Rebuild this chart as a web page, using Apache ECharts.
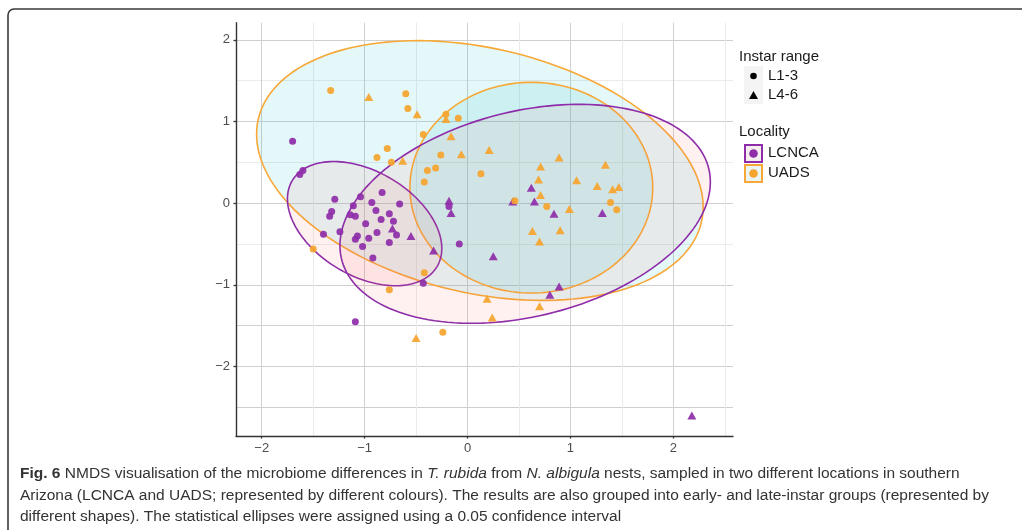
<!DOCTYPE html>
<html><head><meta charset="utf-8">
<script src="https://cdn.jsdelivr.net/npm/echarts@6/dist/echarts.min.js"></script>
<style>html,body{margin:0;padding:0;background:#fff}#c{width:1022px;height:530px}</style>
</head><body><div id="c"></div>
<script>
// ---- data (NMDS1, NMDS2) ----
const lcncaL13 = [[-1.70,0.76],[-1.63,0.35],[-1.60,0.40],[-1.29,0.05],[-1.04,0.08],[-0.83,0.13],[-0.93,0.01],[-0.66,-0.01],[-1.11,-0.03],[-1.32,-0.10],[-1.34,-0.16],[-1.14,-0.14],[-1.09,-0.16],[-0.89,-0.09],[-0.76,-0.13],[-0.84,-0.20],[-0.72,-0.22],[-0.99,-0.25],[-1.40,-0.38],[-1.24,-0.35],[-0.88,-0.36],[-0.69,-0.39],[-1.07,-0.40],[-1.09,-0.44],[-0.96,-0.43],[-0.76,-0.48],[-1.02,-0.53],[-0.92,-0.67],[-0.43,-0.98],[-0.08,-0.50],[-1.09,-1.45],[-0.18,-0.04]];
const lcncaL46 = [[-0.73,-0.31],[-0.55,-0.40],[-0.33,-0.58],[-0.18,0.03],[-0.16,-0.12],[0.25,-0.65],[0.62,0.19],[0.65,0.02],[0.84,-0.13],[0.44,0.02],[0.89,-1.02],[0.80,-1.12],[1.31,-0.12],[2.18,-2.60]];
const uadsL13 = [[-1.33,1.38],[-0.60,1.34],[-0.58,1.16],[-0.43,0.84],[-0.78,0.67],[-0.88,0.56],[-0.74,0.50],[-0.26,0.59],[-0.31,0.43],[-0.39,0.40],[-0.42,0.26],[-0.21,1.09],[-0.09,1.04],[0.13,0.36],[0.46,0.03],[0.77,-0.04],[1.39,0.01],[1.45,-0.08],[-1.50,-0.56],[-0.42,-0.85],[-0.76,-1.06],[-0.24,-1.58]];
const uadsL46 = [[-0.96,1.30],[-0.49,1.09],[-0.63,0.52],[-0.21,1.03],[-0.16,0.82],[-0.06,0.60],[0.21,0.65],[0.89,0.56],[0.71,0.45],[0.69,0.29],[1.06,0.28],[0.71,0.10],[0.99,-0.07],[0.63,-0.34],[0.90,-0.33],[0.70,-0.47],[1.34,0.47],[1.26,0.21],[1.41,0.17],[1.47,0.20],[0.19,-1.17],[0.70,-1.26],[0.24,-1.40],[-0.50,-1.65]];

// ---- ticks / grid ----
const xTickLabels = [-2,-1,0,1,2];
const yTickLabels = [-2,-1,0,1,2];
const xGridValues = [-2,-1.5,-1,-0.5,0,0.5,1,1.5,2,2.5];
const yGridValues = [-2.5,-2,-1.5,-1,-0.5,0,0.5,1,1.5,2];

// ---- 95% ellipses (center, half-extent, correlation) ----
const ellipseNames    = ['UADS L1-3','UADS L4-6','LCNCA L1-3','LCNCA L4-6'];
const ellipseLocality = ['UADS','UADS','LCNCA','LCNCA'];
const ellipseCx  = [0.12, 0.62, -1.00, 0.56];
const ellipseCy  = [0.40, 0.19, -0.25, -0.13];
const ellipseSx  = [2.17, 1.18, 0.75, 1.80];
const ellipseSy  = [1.59, 1.29, 0.76, 1.34];
const ellipseRho = [-0.28, 0.00, -0.40, 0.29];

const PURPLE = '#8E2CA9', ORANGE = '#F5A42E';
const lineColor = {LCNCA: PURPLE, UADS: '#F7A836'};
const fillColor = {LCNCA: 'rgba(248,118,109,0.1)', UADS: 'rgba(0,191,196,0.1)'};
const FONT = '"Liberation Sans", Arial, sans-serif';
const fmt = v => v < 0 ? '\u2212' + Math.abs(v) : String(v);
const G1 = '#d0d0d0', G2 = '#ebebeb';

const chart = echarts.init(document.getElementById('c'), null, {renderer: 'canvas'});

function renderEllipse(params, api) {
  const i = params.dataIndex;
  const pts = [];
  const n = 160, r = ellipseRho[i], q = Math.sqrt(1 - r * r);
  for (let k = 0; k < n; k++) {
    const t = 2 * Math.PI * k / n;
    const x = ellipseCx[i] + ellipseSx[i] * Math.cos(t);
    const y = ellipseCy[i] + ellipseSy[i] * (r * Math.cos(t) + q * Math.sin(t));
    pts.push(api.coord([x, y]));
  }
  const loc = ellipseLocality[i];
  return {type: 'polygon', shape: {points: pts},
    style: {fill: fillColor[loc], stroke: lineColor[loc], lineWidth: 1.6}};
}

const scatter = (name, data, color, symbol, size) => ({
  name, type: 'scatter', data, symbol, symbolSize: size,
  itemStyle: {color: color, opacity: 0.92}, silent: true, z: 4
});

const legendText = (text, x, y, size) => ({type: 'text', x, y,
  style: {text, fill: '#1a1a1a', font: size + 'px ' + FONT, verticalAlign: 'middle'}});

const CS = 15.5;
const capRich = {
  n: {fontSize: CS, fontFamily: FONT, color: '#333'},
  b: {fontSize: CS, fontFamily: FONT, color: '#333', fontWeight: 'bold'},
  i: {fontSize: CS, fontFamily: FONT, color: '#333', fontStyle: 'italic'}
};
const capLine = (text, y) => ({type: 'text', x: 20, y,
  style: {text, rich: capRich, fill: '#333', font: CS + 'px ' + FONT, verticalAlign: 'middle'}});

chart.setOption({
  animation: false,
  backgroundColor: '#fff',
  grid: {left: 236, top: 22.7, width: 497, height: 413.3, outerBoundsMode: 'none'},
  xAxis: [{
    type: 'value', min: -2.25, max: 2.58,
    axisLine: {show: true, onZero: false, lineStyle: {color: '#333', width: 1.4}},
    axisTick: {show: false, customValues: xGridValues},
    axisLabel: {customValues: xTickLabels, formatter: fmt, color: '#4d4d4d', fontSize: 13, fontFamily: FONT, margin: 6},
    splitLine: {show: true, lineStyle: {color: [G1, G2], width: 1}}
  }, {
    type: 'value', min: -2.25, max: 2.58, position: 'bottom',
    axisLine: {show: false, onZero: false},
    axisTick: {show: true, customValues: xTickLabels, length: 2.5, lineStyle: {color: '#333', width: 1.3}},
    axisLabel: {show: false}, splitLine: {show: false}
  }],
  yAxis: [{
    type: 'value', min: -2.85, max: 2.21,
    axisLine: {show: true, onZero: false, lineStyle: {color: '#333', width: 1.4}},
    axisTick: {show: false, customValues: yGridValues},
    axisLabel: {customValues: yTickLabels, formatter: fmt, color: '#4d4d4d', fontSize: 13, fontFamily: FONT, margin: 6},
    splitLine: {show: true, lineStyle: {color: [G1, G1, G1, G1, G2, G1, G2, G1, G2, G1], width: 1}}
  }, {
    type: 'value', min: -2.85, max: 2.21, position: 'left',
    axisLine: {show: false, onZero: false},
    axisTick: {show: true, customValues: yTickLabels, length: 2.5, lineStyle: {color: '#333', width: 1.3}},
    axisLabel: {show: false}, splitLine: {show: false}
  }],
  series: [
    {
      type: 'custom', name: 'ellipses', silent: true, z: 3,
      renderItem: renderEllipse,
      data: ellipseNames.map((n, i) => [ellipseCx[i], ellipseCy[i]]),
      encode: {x: 0, y: 1}
    },
    scatter('LCNCA L1-3', lcncaL13, PURPLE, 'circle', 7),
    scatter('LCNCA L4-6', lcncaL46, PURPLE, 'triangle', [9, 8]),
    scatter('UADS L1-3', uadsL13, ORANGE, 'circle', 7),
    scatter('UADS L4-6', uadsL46, ORANGE, 'triangle', [9, 8])
  ],
  graphic: [
    {type: 'rect', shape: {x: 8, y: 9, width: 1040, height: 560, r: 6},
     style: {fill: 'none', stroke: '#3a3a3a', lineWidth: 1.6}, z: 10},
    legendText('Instar range', 739, 57, 15),
    {type: 'rect', shape: {x: 744, y: 66, width: 19, height: 38}, style: {fill: '#f4f4f4'}},
    {type: 'circle', shape: {cx: 753.5, cy: 76, r: 3.3}, style: {fill: '#000'}},
    {type: 'polygon', shape: {points: [[749, 99], [758, 99], [753.5, 91]]}, style: {fill: '#000'}},
    legendText('L1-3', 768, 76, 15),
    legendText('L4-6', 768, 95, 15),
    legendText('Locality', 739, 132, 15),
    {type: 'rect', shape: {x: 745, y: 145, width: 17, height: 17},
     style: {fill: '#f4eeee', stroke: PURPLE, lineWidth: 2}},
    {type: 'circle', shape: {cx: 753.5, cy: 153.5, r: 4.3}, style: {fill: PURPLE}},
    {type: 'rect', shape: {x: 745, y: 165, width: 17, height: 17},
     style: {fill: '#eaf5f5', stroke: '#F7A836', lineWidth: 2}},
    {type: 'circle', shape: {cx: 753.5, cy: 173.5, r: 4.3}, style: {fill: ORANGE}},
    legendText('LCNCA', 768, 153, 15),
    legendText('UADS', 768, 173, 15),
    capLine('{b|Fig. 6}{n| NMDS visualisation of the microbiome differences in }{i|T. rubida}{n| from }{i|N. albigula}{n| nests, sampled in two different locations in southern}', 474),
    capLine('{n|Arizona (LCNCA and UADS; represented by different colours). The results are also grouped into early- and late-instar groups (represented by}', 496),
    capLine('{n|different shapes). The statistical ellipses were assigned using a 0.05 confidence interval}', 517)
  ]
});
</script></body></html>
